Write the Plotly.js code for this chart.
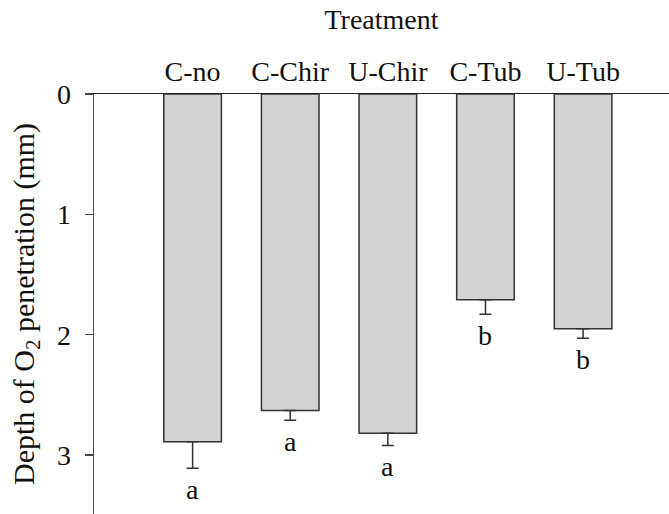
<!DOCTYPE html>
<html>
<head>
<meta charset="utf-8">
<script src="https://cdn.plot.ly/plotly-3.0.1.min.js"></script>
<style>html,body{margin:0;padding:0;background:#fff;}#chart{width:669px;height:514px;}</style>
</head>
<body>
<div id="chart"></div>
<script>
const categories = ["C-no", "C-Chir", "U-Chir", "C-Tub", "U-Tub"];
const depth = [2.89, 2.63, 2.82, 1.71, 1.95];
const errors = [0.22, 0.08, 0.10, 0.12, 0.08];
const letters = ["a", "a", "a", "b", "b"];
const yTicks = [0, 1, 2, 3];

const FONT = "'Liberation Serif', 'Times New Roman', serif";

const trace = {
  type: "bar",
  x: categories,
  y: depth,
  width: 0.59,
  marker: {color: "#d2d3d5", line: {color: "#333333", width: 1.5}},
  error_y: {type: "data", array: errors, arrayminus: errors.map(() => 0), symmetric: false,
            color: "#333333", thickness: 1.5, width: 6},
  hoverinfo: "skip"
};

const annotations = categories.map((c, i) => ({
  x: c, y: depth[i] + errors[i], xref: "x", yref: "y",
  text: letters[i], showarrow: false, yanchor: "middle", yshift: -21,
  font: {family: FONT, size: 28, color: "#111"}
}));

const layout = {
  width: 669, height: 514,
  margin: {l: 94, r: 0, t: 94, b: 0, pad: 0},
  paper_bgcolor: "#fff", plot_bgcolor: "#fff",
  showlegend: false,
  font: {family: FONT, color: "#111", size: 28},
  xaxis: {
    side: "top", range: [-1.01, 4.88], type: "category",
    showline: true, linecolor: "#222", linewidth: 1.5,
    ticks: "", showgrid: false, zeroline: false,
    tickfont: {family: FONT, size: 28, color: "#111"},
    ticklabelstandoff: 0,
    title: {text: "Treatment", font: {family: FONT, size: 28, color: "#111"}, standoff: 18}
  },
  yaxis: {
    range: [3.49, 0], tickvals: yTicks, ticktext: yTicks.map(String),
    showline: true, linecolor: "#444", linewidth: 1.5,
    ticks: "outside", ticklen: 8, tickwidth: 1.5, tickcolor: "#444",
    showgrid: false, zeroline: false,
    tickfont: {family: FONT, size: 28, color: "#111"},
    ticklabelstandoff: 8,
    title: {text: "Depth of O<sub>2</sub> penetration (mm)", font: {family: FONT, size: 30, color: "#111"}, standoff: 13}
  },
  annotations: annotations
};

Plotly.newPlot("chart", [trace], layout, {displayModeBar: false, staticPlot: true});
</script>
</body>
</html>
